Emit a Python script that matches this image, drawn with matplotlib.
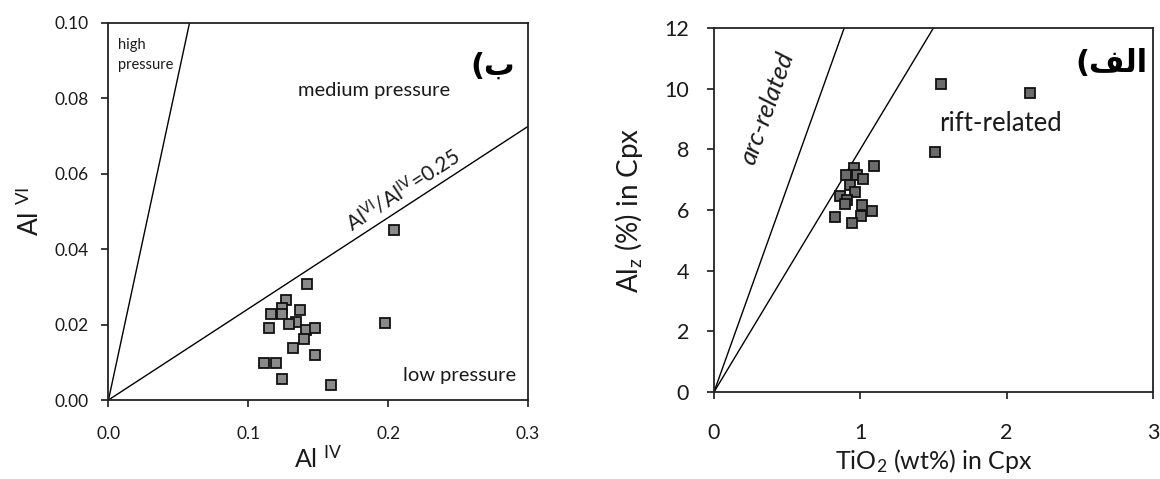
import numpy as np
import matplotlib
matplotlib.use("Agg")
import matplotlib.pyplot as plt

plt.rcParams['font.family'] = ['Lato', 'DejaVu Sans']
plt.rcParams['mathtext.fontset'] = 'custom'
plt.rcParams['mathtext.rm'] = 'Lato'
plt.rcParams['mathtext.it'] = 'Lato:italic'
plt.rcParams['mathtext.bf'] = 'Lato:bold'

# --- panel ب : Al VI vs Al IV ---
al_iv = [0.204, 0.142, 0.127, 0.124, 0.124, 0.116, 0.137, 0.134, 0.129, 0.115,
         0.141, 0.148, 0.140, 0.132, 0.148, 0.111, 0.120, 0.124, 0.159, 0.198]
al_vi = [0.0451, 0.0307, 0.0266, 0.0244, 0.0228, 0.0228, 0.0239, 0.0207, 0.0201, 0.0192,
         0.0185, 0.0192, 0.0163, 0.0137, 0.0120, 0.0099, 0.0097, 0.0057, 0.0039, 0.0205]
high_x = [0.0, 0.058]
high_y = [0.0, 0.10]
mid_x = [0.0, 0.3]
mid_y = [0.0, 0.0725]
left_xticks = [0.0, 0.1, 0.2, 0.3]
left_yticks = [0.00, 0.02, 0.04, 0.06, 0.08, 0.10]

# --- panel الف : Alz vs TiO2 ---
tio2 = [1.553, 2.159, 1.510, 1.091, 0.955, 0.902, 0.977, 1.018, 0.929, 0.967,
        0.859, 0.909, 0.896, 1.010, 1.081, 1.003, 0.826, 0.942]
alz = [10.16, 9.85, 7.90, 7.45, 7.40, 7.16, 7.16, 7.01, 6.83, 6.58,
       6.46, 6.33, 6.19, 6.17, 5.98, 5.80, 5.76, 5.58]
arc_x = [0.0, 0.89]
arc_y = [0.0, 12.0]
rift_x = [0.0, 1.50]
rift_y = [0.0, 12.0]
right_xticks = [0, 1, 2, 3]
right_yticks = [0, 2, 4, 6, 8, 10, 12]

txt = '#1a1a1a'
fig = plt.figure(figsize=(11.6, 4.79), dpi=100)

# left panel
ax1 = fig.add_axes([0.0935, 0.1649, 0.3616, 0.7877])
ax1.plot(high_x, high_y, color='black', lw=1.0)
ax1.plot(mid_x, mid_y, color='black', lw=1.0)
ax1.plot(al_iv, al_vi, 's', ms=7, mfc='#8a8a8a', mec='#111111', mew=1.3, ls='none')
ax1.set_xlim(0, 0.3)
ax1.set_ylim(0, 0.10)
ax1.set_xticks(left_xticks)
ax1.set_xticklabels(['0.0', '0.1', '0.2', '0.3'])
ax1.set_yticks(left_yticks)
ax1.set_yticklabels(['%.2f' % v for v in left_yticks])
ax1.tick_params(axis='x', direction='out', length=5, width=1.2, pad=14, labelsize=12.5, colors=txt)
ax1.tick_params(axis='y', direction='out', length=5, width=1.2, pad=9, labelsize=12.5, colors=txt)
ax1.set_xlabel(r'Al $^{\mathrm{IV}}$', fontsize=18, labelpad=2, color=txt)
ax1.set_ylabel(r'Al $^{\mathrm{VI}}$', fontsize=19, labelpad=8, color=txt)
ax1.text(0.007, 0.0940, 'high', fontsize=10.5, va='center', color=txt)
ax1.text(0.007, 0.0887, 'pressure', fontsize=10.5, va='center', color=txt)
ax1.text(0.190, 0.0821, 'medium pressure', fontsize=14.5, ha='center', va='center', color=txt)
ax1.text(0.2514, 0.0064, 'low pressure', fontsize=14.5, ha='center', va='center', color=txt)
ang1 = np.degrees(np.arctan2(mid_y[1] - mid_y[0], mid_x[1] - mid_x[0]))
ax1.text(0.211, 0.0557, r'Al$^{\mathrm{VI}}$/Al$^{\mathrm{IV}}$=0.25', fontsize=15,
         rotation=ang1, transform_rotates_text=True, rotation_mode='anchor',
         ha='center', va='center', color=txt)
ax1.text(0.2745, 0.0885, '(\u0628', fontsize=22, fontweight='bold',
         family=['DejaVu Sans'], ha='center', va='center', color='black')

# right panel
ax2 = fig.add_axes([0.6155, 0.1816, 0.3784, 0.760])
ax2.plot(arc_x, arc_y, color='black', lw=1.0)
ax2.plot(rift_x, rift_y, color='black', lw=1.0)
ax2.plot(tio2, alz, 's', ms=7.5, mfc='#6b6b6b', mec='#111111', mew=1.3, ls='none')
ax2.set_xlim(0, 3)
ax2.set_ylim(0, 12)
ax2.set_xticks(right_xticks)
ax2.set_yticks(right_yticks)
ax2.tick_params(axis='x', direction='out', length=5, width=1.2, pad=17, labelsize=15.5, colors=txt)
ax2.tick_params(axis='y', direction='out', length=5, width=1.2, pad=13, labelsize=15.5, colors=txt)
ax2.set_xlabel(r'TiO$_2$ (wt%) in Cpx', fontsize=18, labelpad=3, color=txt)
ax2.set_ylabel(r'Al$_{\mathrm{z}}$ (%) in Cpx', fontsize=20, labelpad=14, color=txt)
ang2 = np.degrees(np.arctan2(arc_y[1] - arc_y[0], arc_x[1] - arc_x[0]))
ax2.text(0.366, 9.36, 'arc-related', fontsize=18.5, style='italic',
         rotation=ang2, transform_rotates_text=True, rotation_mode='anchor',
         ha='center', va='center', color=txt)
ax2.text(1.96, 8.86, 'rift-related', fontsize=18.5, ha='center', va='center', color=txt)
ax2.text(2.96, 10.84, '(\uFED2\uFEDF\uFE8D', fontsize=22, fontweight='bold',
         family=['DejaVu Sans'], ha='right', va='center', color='black')

for ax in (ax1, ax2):
    for s in ax.spines.values():
        s.set_linewidth(1.3)
        s.set_color('#222222')

fig.savefig('out.png', dpi=100, facecolor='white')
